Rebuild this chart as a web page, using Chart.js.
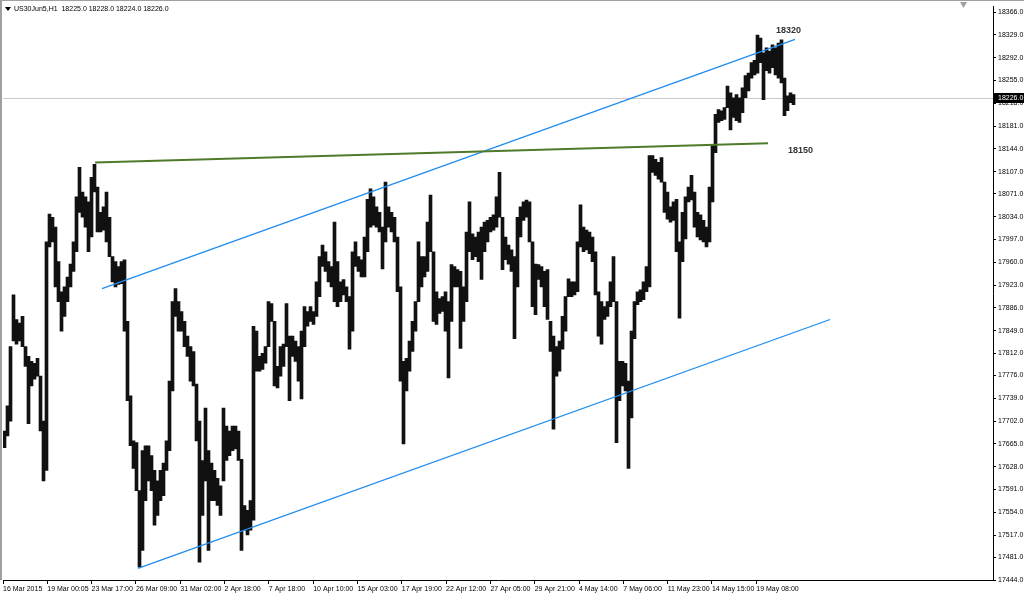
<!DOCTYPE html>
<html lang="en">
<head>
<meta charset="UTF-8" />
<title>US30Jun5,H1</title>
<script src="https://cdn.jsdelivr.net/npm/chart.js@4.4.0/dist/chart.umd.min.js"></script>
<style>
  html, body { margin: 0; padding: 0; background: #fff; overflow: hidden; }
  canvas { display: block; }
</style>
</head>
<body>
<canvas id="chart" width="1024" height="597"></canvas>
<script>
// Header of the MT4 window: symbol + OHLC of the last bar
const symbol   = 'US30Jun5,H1';
const lastBar  = ['18225.0', '18228.0', '18224.0', '18226.0'];
const bidPrice = 18226;

// Price axis labels (right side)
const yTicks = [18366, 18329, 18292, 18255, 18218, 18181, 18144, 18107, 18071, 18034, 17997,
  17960, 17923, 17886, 17849, 17812, 17776, 17739, 17702, 17665, 17628, 17591, 17554, 17517,
  17481, 17444];

// Time axis labels, one every ~14.8 bar slots
const timeLabels = ['16 Mar 2015', '19 Mar 00:05', '23 Mar 17:00', '26 Mar 09:00', '31 Mar 02:00',
  '2 Apr 18:00', '7 Apr 18:00', '10 Apr 10:00', '15 Apr 03:00', '17 Apr 19:00', '22 Apr 12:00',
  '27 Apr 05:00', '29 Apr 21:00', '4 May 14:00', '7 May 06:00', '11 May 23:00', '14 May 15:00',
  '19 May 08:00'];
const labelEvery = 14.77;

// High / low of each slot
const highs = [
  17686,17727,17823,17907,17867,17861,17872,17823,17807,17799,17796,17804,
  17775,17702,17993,18038,18033,18017,17961,17912,17920,17936,17957,17993,
  18066,18114,18074,18066,18058,18098,18119,18082,18041,18050,18074,18033,
  17969,17961,17953,17961,17964,17864,17743,17670,17667,17589,17654,17662,
  17662,17646,17622,17605,17622,17634,17670,17767,17896,17917,17896,17880,
  17864,17840,17823,17815,17762,17702,17638,17723,17654,17634,17622,17609,
  17597,17723,17694,17686,17694,17694,17686,17640,17565,17557,17573,17856,
  17848,17807,17812,17823,17896,17893,17864,17791,17823,17827,17893,17840,
  17840,17832,17823,17848,17888,17880,17888,17880,17928,17969,17988,17977,
  17961,17953,18025,17961,17928,17932,17920,17904,17977,17993,17969,17964,
  18001,18062,18079,18066,18050,18041,18017,18090,18050,18041,18033,18001,
  17920,17799,17804,17832,17864,17896,17993,17969,17969,18025,18069,17977,
  17912,17901,17904,17912,17896,17956,17953,17948,17945,17920,18009,18058,
  18006,18001,18009,18017,18025,18028,18033,18037,18066,18106,18033,18001,
  17988,17980,17969,18033,18050,18058,18061,18058,17993,17957,17956,17953,
  17945,17948,17864,17840,17823,17832,17872,17904,17933,17928,17928,17993,
  18053,18017,18012,18009,18001,17977,17912,17896,17888,17896,17928,17969,
  17896,17799,17799,17796,17767,17848,17896,17912,17915,17928,17953,18133,
  18133,18127,18122,18130,18090,18074,18050,18058,18062,17993,18041,18066,
  18082,18101,18074,18041,18037,18028,18017,18082,18150,18200,18208,18206,
  18211,18246,18235,18227,18232,18227,18243,18263,18267,18284,18288,18329,
  18324,18300,18308,18303,18313,18308,18316,18321,18259,18230,18235,18232
];
const lows = [
  17659,17678,17702,17832,17827,17832,17823,17791,17698,17759,17770,17775,
  17686,17605,17622,17985,17993,17920,17896,17848,17872,17896,17920,17945,
  17977,18041,18033,18017,17977,18001,18074,18009,18009,18012,17993,17969,
  17928,17920,17924,17925,17848,17735,17662,17625,17589,17465,17492,17573,
  17605,17589,17533,17549,17573,17581,17622,17654,17751,17872,17848,17848,
  17823,17807,17767,17759,17670,17473,17549,17605,17492,17573,17573,17565,
  17549,17605,17638,17646,17654,17657,17638,17492,17525,17517,17525,17541,
  17783,17783,17786,17796,17823,17864,17759,17756,17775,17791,17823,17735,
  17807,17799,17767,17738,17823,17856,17864,17859,17872,17904,17953,17945,
  17928,17920,17896,17888,17896,17907,17896,17819,17848,17953,17945,17936,
  17936,17977,18017,18020,18017,18009,17949,17993,18017,18009,17993,17912,
  17767,17665,17751,17783,17815,17848,17896,17920,17936,17945,17977,17864,
  17859,17877,17880,17848,17772,17864,17920,17920,17820,17864,17896,17977,
  17964,17969,17961,17932,17977,17993,18009,18012,18017,18033,17948,17964,
  17957,17945,17836,17920,18001,18028,18033,17993,17888,17875,17932,17920,
  17888,17867,17815,17689,17775,17783,17819,17848,17904,17904,17907,17912,
  17985,17977,17980,17974,17961,17907,17840,17827,17867,17872,17888,17896,
  17667,17735,17759,17751,17625,17707,17836,17891,17896,17899,17912,17920,
  18106,18101,18095,18090,18041,18030,18025,18028,17977,17869,17961,17998,
  18058,18061,18017,18001,17996,17993,17985,17993,18058,18138,18187,18190,
  18192,18211,18175,18195,18190,18187,18203,18227,18238,18259,18264,18267,
  18284,18224,18271,18267,18276,18264,18259,18251,18198,18206,18219,18216
];

// Trend lines drawn by the trader (slot index, price)
const resistance   = [{ x: 30.2, y: 18122 }, { x: 254.5, y: 18153 }];
const channelUpper = [{ x: 32.5, y: 17917 }, { x: 263.5, y: 18322 }];
const channelLower = [{ x: 44.5, y: 17463 }, { x: 275.2, y: 17867 }];

// Text objects on the chart
const notes = [
  { text: '18320', x: 257.2, y: 18337 },
  { text: '18150', x: 261.2, y: 18141 },
];

const SLOTS = 330;
const FONT = '"Liberation Sans", Arial, sans-serif';

Chart.defaults.font.family = FONT;
Chart.defaults.font.size = 7;
Chart.defaults.color = '#000';

const overlay = {
  id: 'overlay',
  beforeDraw(chart) {
    const { ctx, width, height } = chart;
    ctx.save();
    ctx.fillStyle = '#fff';
    ctx.fillRect(0, 0, width, height);
    ctx.restore();
  },
  beforeDatasetsDraw(chart) {
    // bid line
    const { ctx, chartArea } = chart;
    const y = Math.round(chart.scales.y.getPixelForValue(bidPrice)) + 0.5;
    ctx.save();
    ctx.strokeStyle = '#c8c8c8';
    ctx.lineWidth = 1;
    ctx.beginPath();
    ctx.moveTo(chartArea.left, y);
    ctx.lineTo(chartArea.right, y);
    ctx.stroke();
    ctx.restore();
  },
  afterDraw(chart) {
    const { ctx, chartArea, width } = chart;
    const xs = chart.scales.x, ys = chart.scales.y;
    ctx.save();

    // window frame
    ctx.fillStyle = '#a0a0a0';
    ctx.fillRect(0, 0, width, 1);
    ctx.fillRect(0, 0, 2, chartArea.bottom);

    // chart shift marker
    ctx.beginPath();
    ctx.moveTo(960, 2); ctx.lineTo(967, 2); ctx.lineTo(963.5, 8); ctx.closePath();
    ctx.fill();

    // header
    ctx.fillStyle = '#000';
    ctx.beginPath();
    ctx.moveTo(5, 7); ctx.lineTo(11, 7); ctx.lineTo(8, 11); ctx.closePath();
    ctx.fill();
    ctx.font = '7px ' + FONT;
    ctx.textBaseline = 'middle';
    ctx.textAlign = 'left';
    ctx.fillText(symbol + '  ' + lastBar.join(' '), 14, 9);

    // text objects
    ctx.font = 'bold 9px ' + FONT;
    ctx.fillStyle = '#333';
    notes.forEach(n => ctx.fillText(n.text, xs.getPixelForValue(n.x), ys.getPixelForValue(n.y)));

    // bid price label on the axis
    const by = Math.round(ys.getPixelForValue(bidPrice));
    ctx.fillStyle = '#000';
    ctx.fillRect(chartArea.right + 1, by - 5, width - chartArea.right - 1, 10);
    ctx.fillStyle = '#fff';
    ctx.font = '7px ' + FONT;
    ctx.fillText(bidPrice.toFixed(1), chartArea.right + 5, by);
    ctx.restore();
  }
};

const trend = (data, color, w) => ({
  type: 'line', data, borderColor: color, borderWidth: w,
  pointRadius: 0, fill: false, tension: 0, order: 0,
});

new Chart(document.getElementById('chart'), {
  type: 'bar',
  data: {
    datasets: [
      {
        type: 'bar',
        data: highs.map((h, i) => ({ x: i, y: [lows[i], h] })),
        backgroundColor: '#111',
        borderWidth: 0,
        barThickness: 3,
        order: 1,
      },
      trend(resistance, '#4e7a2a', 2),
      trend(channelUpper, '#1f8cf0', 1.3),
      trend(channelLower, '#1f8cf0', 1.3),
    ],
  },
  options: {
    responsive: false,
    animation: false,
    events: [],
    devicePixelRatio: 1,
    layout: { padding: { left: 3, top: 3, right: 0, bottom: 0 } },
    plugins: { legend: { display: false }, tooltip: { enabled: false } },
    scales: {
      x: {
        type: 'linear',
        min: -0.5,
        max: SLOTS - 0.5,
        offset: false,
        grid: { drawOnChartArea: false, drawTicks: true, tickLength: 4, color: '#000', offset: false },
        border: { color: '#000' },
        ticks: {
          align: 'start', autoSkip: false, maxRotation: 0, padding: 1,
          callback: (v, i) => timeLabels[i],
        },
        afterBuildTicks: s => { s.ticks = timeLabels.map((_, k) => ({ value: -0.5 + k * labelEvery })); },
        afterFit: s => { s.height = 17; },
      },
      y: {
        type: 'linear',
        position: 'right',
        min: 17444,
        max: 18375.7,
        grid: { drawOnChartArea: false, drawTicks: true, tickLength: 3, color: '#000' },
        border: { color: '#000' },
        ticks: { padding: 2, autoSkip: false, callback: v => v.toFixed(1) },
        afterBuildTicks: s => { s.ticks = yTicks.map(v => ({ value: v })); },
        afterFit: s => { s.width = 31; },
      },
    },
  },
  plugins: [overlay],
});
</script>
</body>
</html>
